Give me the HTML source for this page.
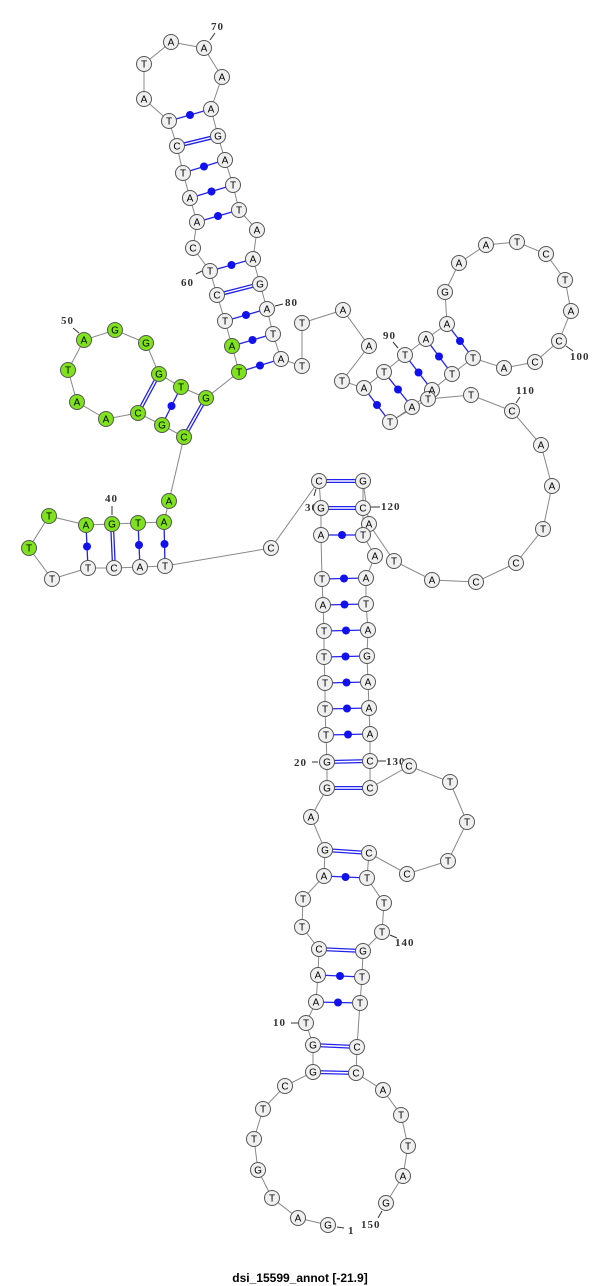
<!DOCTYPE html>
<html><head><meta charset="utf-8"><style>
html,body{margin:0;padding:0;background:#fff;}
svg{display:block;}
.n circle{fill:#f0f0f0;stroke:#555;stroke-width:1;}
.g circle{fill:#7ee21c;stroke:#555;stroke-width:1;}
text.b{font-family:"Liberation Sans",sans-serif;font-size:10px;text-anchor:middle;fill:#000;}
text.l{font-family:"Liberation Serif",serif;font-size:11px;font-weight:bold;fill:#333;letter-spacing:1px;}
.bb{fill:none;stroke:#888;stroke-width:1;}
.s{stroke:#2222ee;stroke-width:1.3;}
.d1{stroke:#2222ee;stroke-width:4;}
.d2{stroke:#fff;stroke-width:1.4;}
.t{stroke:#333;stroke-width:1;}
</style></head><body>
<svg width="600" height="1286" viewBox="0 0 600 1286" xmlns="http://www.w3.org/2000/svg">
<polyline class="bb" points="328,1225 298,1218 272,1198 258,1170 254,1139 263,1109 285,1086 313,1072 313,1045 306,1023 316,1002 318,975 319,949 302,927 303,899 324,876 325,850 311,817 327,788 327,762 326,735 325,709 325,683 324,657 324,631 323,605 322,579 321,535 321,508 319,481 271,548 165,566 140,567 114,568 88,568 52,579 29,548 49,516 86,525 112,524 138,523 164,522 169,501 184,437 162,425 138,413 106,419 77,402 68,370 84,340 115,330 146,343 159,374 181,387 206,398 239,372 232,346 225,321 217,295 210,271 193,248 197,222 190,198 183,173 177,146 169,121 144,99 144,64 171,42 204,48 222,77 211,109 218,136 225,160 233,185 239,210 257,230 253,259 260,284 267,309 273,334 281,359 302,366 302,323 343,310 369,346 342,381 364,388 384,372 405,355 426,339 447,324 445,292 459,263 486,245 517,242 546,254 565,280 571,311 559,341 535,362 504,368 473,358 452,374 432,390 412,407 390,422 428,399 471,395 512,411 541,445 552,486 543,529 516,563 476,582 432,580 394,561 369,524 363,481 363,508 363,535 375,556 366,578 366,604 368,630 367,656 368,682 369,708 370,734 370,761 370,788 409,766 450,782 467,822 448,861 407,874 369,853 367,878 384,903 382,932 363,951 362,977 360,1003 357,1047 356,1073 383,1090 401,1115 408,1146 403,1176 386,1203"/>
<!-- double pairs -->
<g>
<line class="d1" x1="313" y1="1072" x2="356" y2="1073"/><line class="d2" x1="313" y1="1072" x2="356" y2="1073"/>
<line class="d1" x1="313" y1="1045" x2="357" y2="1047"/><line class="d2" x1="313" y1="1045" x2="357" y2="1047"/>
<line class="d1" x1="319" y1="949" x2="363" y2="951"/><line class="d2" x1="319" y1="949" x2="363" y2="951"/>
<line class="d1" x1="325" y1="850" x2="369" y2="853"/><line class="d2" x1="325" y1="850" x2="369" y2="853"/>
<line class="d1" x1="327" y1="788" x2="370" y2="788"/><line class="d2" x1="327" y1="788" x2="370" y2="788"/>
<line class="d1" x1="327" y1="762" x2="370" y2="761"/><line class="d2" x1="327" y1="762" x2="370" y2="761"/>
<line class="d1" x1="321" y1="508" x2="363" y2="508"/><line class="d2" x1="321" y1="508" x2="363" y2="508"/>
<line class="d1" x1="319" y1="481" x2="363" y2="481"/><line class="d2" x1="319" y1="481" x2="363" y2="481"/>
<line class="d1" x1="112" y1="524" x2="114" y2="568"/><line class="d2" x1="112" y1="524" x2="114" y2="568"/>
<line class="d1" x1="184" y1="437" x2="206" y2="398"/><line class="d2" x1="184" y1="437" x2="206" y2="398"/>
<line class="d1" x1="138" y1="413" x2="159" y2="374"/><line class="d2" x1="138" y1="413" x2="159" y2="374"/>
<line class="d1" x1="217" y1="295" x2="260" y2="284"/><line class="d2" x1="217" y1="295" x2="260" y2="284"/>
<line class="d1" x1="177" y1="146" x2="218" y2="136"/><line class="d2" x1="177" y1="146" x2="218" y2="136"/>
</g>
<!-- single pairs with dots -->
<g fill="#1111f0">
<line class="s" x1="316" y1="1002" x2="360" y2="1003"/><circle cx="338" cy="1002.5" r="4"/>
<line class="s" x1="318" y1="975" x2="362" y2="977"/><circle cx="340" cy="976" r="4"/>
<line class="s" x1="324" y1="876" x2="367" y2="878"/><circle cx="345.5" cy="877" r="4"/>
<line class="s" x1="326" y1="735" x2="370" y2="734"/><circle cx="348" cy="734.5" r="4"/>
<line class="s" x1="325" y1="709" x2="369" y2="708"/><circle cx="347" cy="708.5" r="4"/>
<line class="s" x1="325" y1="683" x2="368" y2="682"/><circle cx="346.5" cy="682.5" r="4"/>
<line class="s" x1="324" y1="657" x2="367" y2="656"/><circle cx="345.5" cy="656.5" r="4"/>
<line class="s" x1="324" y1="631" x2="368" y2="630"/><circle cx="346" cy="630.5" r="4"/>
<line class="s" x1="323" y1="605" x2="366" y2="604"/><circle cx="344.5" cy="604.5" r="4"/>
<line class="s" x1="322" y1="579" x2="366" y2="578"/><circle cx="344" cy="578.5" r="4"/>
<line class="s" x1="321" y1="535" x2="363" y2="535"/><circle cx="342" cy="535" r="4"/>
<line class="s" x1="164" y1="522" x2="165" y2="566"/><circle cx="164.5" cy="544" r="4"/>
<line class="s" x1="138" y1="523" x2="140" y2="567"/><circle cx="139" cy="545" r="4"/>
<line class="s" x1="86" y1="525" x2="88" y2="568"/><circle cx="87" cy="546.5" r="4"/>
<line class="s" x1="162" y1="425" x2="181" y2="387"/><circle cx="171.5" cy="406" r="4"/>
<line class="s" x1="239" y1="372" x2="281" y2="359"/><circle cx="260" cy="365.5" r="4"/>
<line class="s" x1="232" y1="346" x2="273" y2="334"/><circle cx="252.5" cy="340" r="4"/>
<line class="s" x1="225" y1="321" x2="267" y2="309"/><circle cx="246" cy="315" r="4"/>
<line class="s" x1="210" y1="271" x2="253" y2="259"/><circle cx="231.5" cy="265" r="4"/>
<line class="s" x1="197" y1="222" x2="239" y2="210"/><circle cx="218" cy="216" r="4"/>
<line class="s" x1="190" y1="198" x2="233" y2="185"/><circle cx="211.5" cy="191.5" r="4"/>
<line class="s" x1="183" y1="173" x2="225" y2="160"/><circle cx="204" cy="166.5" r="4"/>
<line class="s" x1="169" y1="121" x2="211" y2="109"/><circle cx="190" cy="115" r="4"/>
<line class="s" x1="364" y1="388" x2="390" y2="422"/><circle cx="377" cy="405" r="4"/>
<line class="s" x1="384" y1="372" x2="412" y2="407"/><circle cx="398" cy="389.5" r="4"/>
<line class="s" x1="405" y1="355" x2="432" y2="390"/><circle cx="418.5" cy="372.5" r="4"/>
<line class="s" x1="426" y1="339" x2="452" y2="374"/><circle cx="439" cy="356.5" r="4"/>
<line class="s" x1="447" y1="324" x2="473" y2="358"/><circle cx="460" cy="341" r="4"/>
</g>
<!-- ticks -->
<g class="t">
<line x1="210" y1="40" x2="215" y2="33"/>
<line x1="202" y1="271" x2="196" y2="274"/>
<line x1="275" y1="306" x2="283" y2="304"/>
<line x1="79" y1="333" x2="73" y2="328"/>
<line x1="112" y1="515" x2="112" y2="506"/>
<line x1="316" y1="489" x2="314" y2="496"/>
<line x1="371" y1="507" x2="380" y2="507"/>
<line x1="378" y1="761" x2="386" y2="761"/>
<line x1="390" y1="935" x2="397" y2="938"/>
<line x1="318" y1="762" x2="312" y2="762"/>
<line x1="298" y1="1023" x2="291" y2="1023"/>
<line x1="398" y1="348" x2="393" y2="342"/>
<line x1="566" y1="346" x2="573" y2="351"/>
<line x1="516" y1="403" x2="520" y2="397"/>
<line x1="382" y1="1211" x2="378" y2="1218"/>
<line x1="337" y1="1227" x2="344" y2="1228"/>
</g>
<g>
<text class="l" x="211" y="30">70</text>
<text class="l" x="181" y="286">60</text>
<text class="l" x="285" y="306">80</text>
<text class="l" x="61" y="324">50</text>
<text class="l" x="105" y="502">40</text>
<text class="l" x="305" y="511">30</text>
<text class="l" x="381" y="510">120</text>
<text class="l" x="386" y="765">130</text>
<text class="l" x="395" y="946">140</text>
<text class="l" x="294" y="766">20</text>
<text class="l" x="273" y="1026">10</text>
<text class="l" x="383" y="339">90</text>
<text class="l" x="570" y="360">100</text>
<text class="l" x="516" y="394">110</text>
<text class="l" x="361" y="1228">150</text>
<text class="l" x="348" y="1234">1</text>
</g>
<!-- nucleotides -->
<g class="n">
<circle cx="328" cy="1225" r="7.5"/><circle cx="298" cy="1218" r="7.5"/><circle cx="272" cy="1198" r="7.5"/><circle cx="258" cy="1170" r="7.5"/><circle cx="254" cy="1139" r="7.5"/><circle cx="263" cy="1109" r="7.5"/><circle cx="285" cy="1086" r="7.5"/><circle cx="313" cy="1072" r="7.5"/><circle cx="313" cy="1045" r="7.5"/><circle cx="306" cy="1023" r="7.5"/><circle cx="316" cy="1002" r="7.5"/><circle cx="318" cy="975" r="7.5"/><circle cx="319" cy="949" r="7.5"/><circle cx="302" cy="927" r="7.5"/><circle cx="303" cy="899" r="7.5"/><circle cx="324" cy="876" r="7.5"/><circle cx="325" cy="850" r="7.5"/><circle cx="311" cy="817" r="7.5"/><circle cx="327" cy="788" r="7.5"/><circle cx="327" cy="762" r="7.5"/><circle cx="326" cy="735" r="7.5"/><circle cx="325" cy="709" r="7.5"/><circle cx="325" cy="683" r="7.5"/><circle cx="324" cy="657" r="7.5"/><circle cx="324" cy="631" r="7.5"/><circle cx="323" cy="605" r="7.5"/><circle cx="322" cy="579" r="7.5"/><circle cx="321" cy="535" r="7.5"/><circle cx="321" cy="508" r="7.5"/><circle cx="319" cy="481" r="7.5"/><circle cx="271" cy="548" r="7.5"/><circle cx="165" cy="566" r="7.5"/><circle cx="140" cy="567" r="7.5"/><circle cx="114" cy="568" r="7.5"/><circle cx="88" cy="568" r="7.5"/><circle cx="52" cy="579" r="7.5"/>
<circle cx="225" cy="321" r="7.5"/><circle cx="217" cy="295" r="7.5"/><circle cx="210" cy="271" r="7.5"/><circle cx="193" cy="248" r="7.5"/><circle cx="197" cy="222" r="7.5"/><circle cx="190" cy="198" r="7.5"/><circle cx="183" cy="173" r="7.5"/><circle cx="177" cy="146" r="7.5"/><circle cx="169" cy="121" r="7.5"/><circle cx="144" cy="99" r="7.5"/><circle cx="144" cy="64" r="7.5"/><circle cx="171" cy="42" r="7.5"/><circle cx="204" cy="48" r="7.5"/><circle cx="222" cy="77" r="7.5"/><circle cx="211" cy="109" r="7.5"/><circle cx="218" cy="136" r="7.5"/><circle cx="225" cy="160" r="7.5"/><circle cx="233" cy="185" r="7.5"/><circle cx="239" cy="210" r="7.5"/><circle cx="257" cy="230" r="7.5"/><circle cx="253" cy="259" r="7.5"/><circle cx="260" cy="284" r="7.5"/><circle cx="267" cy="309" r="7.5"/><circle cx="273" cy="334" r="7.5"/><circle cx="281" cy="359" r="7.5"/><circle cx="302" cy="366" r="7.5"/><circle cx="302" cy="323" r="7.5"/><circle cx="343" cy="310" r="7.5"/><circle cx="369" cy="346" r="7.5"/><circle cx="342" cy="381" r="7.5"/><circle cx="364" cy="388" r="7.5"/><circle cx="384" cy="372" r="7.5"/><circle cx="405" cy="355" r="7.5"/><circle cx="426" cy="339" r="7.5"/><circle cx="447" cy="324" r="7.5"/><circle cx="445" cy="292" r="7.5"/><circle cx="459" cy="263" r="7.5"/><circle cx="486" cy="245" r="7.5"/><circle cx="517" cy="242" r="7.5"/><circle cx="546" cy="254" r="7.5"/><circle cx="565" cy="280" r="7.5"/><circle cx="571" cy="311" r="7.5"/><circle cx="559" cy="341" r="7.5"/><circle cx="535" cy="362" r="7.5"/><circle cx="504" cy="368" r="7.5"/><circle cx="473" cy="358" r="7.5"/><circle cx="452" cy="374" r="7.5"/><circle cx="432" cy="390" r="7.5"/><circle cx="412" cy="407" r="7.5"/><circle cx="390" cy="422" r="7.5"/><circle cx="428" cy="399" r="7.5"/><circle cx="471" cy="395" r="7.5"/><circle cx="512" cy="411" r="7.5"/><circle cx="541" cy="445" r="7.5"/><circle cx="552" cy="486" r="7.5"/><circle cx="543" cy="529" r="7.5"/><circle cx="516" cy="563" r="7.5"/><circle cx="476" cy="582" r="7.5"/><circle cx="432" cy="580" r="7.5"/><circle cx="394" cy="561" r="7.5"/><circle cx="369" cy="524" r="7.5"/><circle cx="363" cy="481" r="7.5"/><circle cx="363" cy="508" r="7.5"/><circle cx="363" cy="535" r="7.5"/><circle cx="375" cy="556" r="7.5"/><circle cx="366" cy="578" r="7.5"/><circle cx="366" cy="604" r="7.5"/><circle cx="368" cy="630" r="7.5"/><circle cx="367" cy="656" r="7.5"/><circle cx="368" cy="682" r="7.5"/><circle cx="369" cy="708" r="7.5"/><circle cx="370" cy="734" r="7.5"/><circle cx="370" cy="761" r="7.5"/><circle cx="370" cy="788" r="7.5"/><circle cx="409" cy="766" r="7.5"/><circle cx="450" cy="782" r="7.5"/><circle cx="467" cy="822" r="7.5"/><circle cx="448" cy="861" r="7.5"/><circle cx="407" cy="874" r="7.5"/><circle cx="369" cy="853" r="7.5"/><circle cx="367" cy="878" r="7.5"/><circle cx="384" cy="903" r="7.5"/><circle cx="382" cy="932" r="7.5"/><circle cx="363" cy="951" r="7.5"/><circle cx="362" cy="977" r="7.5"/><circle cx="360" cy="1003" r="7.5"/><circle cx="357" cy="1047" r="7.5"/><circle cx="356" cy="1073" r="7.5"/><circle cx="383" cy="1090" r="7.5"/><circle cx="401" cy="1115" r="7.5"/><circle cx="408" cy="1146" r="7.5"/><circle cx="403" cy="1176" r="7.5"/><circle cx="386" cy="1203" r="7.5"/>
</g>
<g class="g">
<circle cx="29" cy="548" r="7.5"/><circle cx="49" cy="516" r="7.5"/><circle cx="86" cy="525" r="7.5"/><circle cx="112" cy="524" r="7.5"/><circle cx="138" cy="523" r="7.5"/><circle cx="164" cy="522" r="7.5"/><circle cx="169" cy="501" r="7.5"/><circle cx="184" cy="437" r="7.5"/><circle cx="162" cy="425" r="7.5"/><circle cx="138" cy="413" r="7.5"/><circle cx="106" cy="419" r="7.5"/><circle cx="77" cy="402" r="7.5"/><circle cx="68" cy="370" r="7.5"/><circle cx="84" cy="340" r="7.5"/><circle cx="115" cy="330" r="7.5"/><circle cx="146" cy="343" r="7.5"/><circle cx="159" cy="374" r="7.5"/><circle cx="181" cy="387" r="7.5"/><circle cx="206" cy="398" r="7.5"/><circle cx="239" cy="372" r="7.5"/><circle cx="232" cy="346" r="7.5"/>
</g>
<g>
<text class="b" x="328" y="1228.5">G</text><text class="b" x="298" y="1221.5">A</text><text class="b" x="272" y="1201.5">T</text><text class="b" x="258" y="1173.5">G</text><text class="b" x="254" y="1142.5">T</text><text class="b" x="263" y="1112.5">T</text><text class="b" x="285" y="1089.5">C</text><text class="b" x="313" y="1075.5">G</text><text class="b" x="313" y="1048.5">G</text><text class="b" x="306" y="1026.5">T</text><text class="b" x="316" y="1005.5">A</text><text class="b" x="318" y="978.5">A</text><text class="b" x="319" y="952.5">C</text><text class="b" x="302" y="930.5">T</text><text class="b" x="303" y="902.5">T</text><text class="b" x="324" y="879.5">A</text><text class="b" x="325" y="853.5">G</text><text class="b" x="311" y="820.5">A</text><text class="b" x="327" y="791.5">G</text><text class="b" x="327" y="765.5">G</text><text class="b" x="326" y="738.5">T</text><text class="b" x="325" y="712.5">T</text><text class="b" x="325" y="686.5">T</text><text class="b" x="324" y="660.5">T</text><text class="b" x="324" y="634.5">T</text><text class="b" x="323" y="608.5">A</text><text class="b" x="322" y="582.5">T</text><text class="b" x="321" y="538.5">A</text><text class="b" x="321" y="511.5">G</text><text class="b" x="319" y="484.5">C</text><text class="b" x="271" y="551.5">C</text><text class="b" x="165" y="569.5">T</text><text class="b" x="140" y="570.5">A</text><text class="b" x="114" y="571.5">C</text><text class="b" x="88" y="571.5">T</text><text class="b" x="52" y="582.5">T</text><text class="b" x="29" y="551.5">T</text><text class="b" x="49" y="519.5">T</text><text class="b" x="86" y="528.5">A</text><text class="b" x="112" y="527.5">G</text><text class="b" x="138" y="526.5">T</text><text class="b" x="164" y="525.5">A</text><text class="b" x="169" y="504.5">A</text><text class="b" x="184" y="440.5">C</text><text class="b" x="162" y="428.5">G</text><text class="b" x="138" y="416.5">C</text><text class="b" x="106" y="422.5">A</text><text class="b" x="77" y="405.5">A</text><text class="b" x="68" y="373.5">T</text><text class="b" x="84" y="343.5">A</text><text class="b" x="115" y="333.5">G</text><text class="b" x="146" y="346.5">G</text><text class="b" x="159" y="377.5">G</text><text class="b" x="181" y="390.5">T</text><text class="b" x="206" y="401.5">G</text><text class="b" x="239" y="375.5">T</text><text class="b" x="232" y="349.5">A</text><text class="b" x="225" y="324.5">T</text><text class="b" x="217" y="298.5">C</text><text class="b" x="210" y="274.5">T</text><text class="b" x="193" y="251.5">C</text><text class="b" x="197" y="225.5">A</text><text class="b" x="190" y="201.5">A</text><text class="b" x="183" y="176.5">T</text><text class="b" x="177" y="149.5">C</text><text class="b" x="169" y="124.5">T</text><text class="b" x="144" y="102.5">A</text><text class="b" x="144" y="67.5">T</text><text class="b" x="171" y="45.5">A</text><text class="b" x="204" y="51.5">A</text><text class="b" x="222" y="80.5">A</text><text class="b" x="211" y="112.5">A</text><text class="b" x="218" y="139.5">G</text><text class="b" x="225" y="163.5">A</text><text class="b" x="233" y="188.5">T</text><text class="b" x="239" y="213.5">T</text><text class="b" x="257" y="233.5">A</text><text class="b" x="253" y="262.5">A</text><text class="b" x="260" y="287.5">G</text><text class="b" x="267" y="312.5">A</text><text class="b" x="273" y="337.5">T</text><text class="b" x="281" y="362.5">A</text><text class="b" x="302" y="369.5">T</text><text class="b" x="302" y="326.5">T</text><text class="b" x="343" y="313.5">A</text><text class="b" x="369" y="349.5">A</text><text class="b" x="342" y="384.5">T</text><text class="b" x="364" y="391.5">A</text><text class="b" x="384" y="375.5">T</text><text class="b" x="405" y="358.5">T</text><text class="b" x="426" y="342.5">A</text><text class="b" x="447" y="327.5">A</text><text class="b" x="445" y="295.5">G</text><text class="b" x="459" y="266.5">A</text><text class="b" x="486" y="248.5">A</text><text class="b" x="517" y="245.5">T</text><text class="b" x="546" y="257.5">C</text><text class="b" x="565" y="283.5">T</text><text class="b" x="571" y="314.5">A</text><text class="b" x="559" y="344.5">C</text><text class="b" x="535" y="365.5">C</text><text class="b" x="504" y="371.5">A</text><text class="b" x="473" y="361.5">T</text><text class="b" x="452" y="377.5">T</text><text class="b" x="432" y="393.5">A</text><text class="b" x="412" y="410.5">A</text><text class="b" x="390" y="425.5">T</text><text class="b" x="428" y="402.5">T</text><text class="b" x="471" y="398.5">T</text><text class="b" x="512" y="414.5">C</text><text class="b" x="541" y="448.5">A</text><text class="b" x="552" y="489.5">A</text><text class="b" x="543" y="532.5">T</text><text class="b" x="516" y="566.5">C</text><text class="b" x="476" y="585.5">C</text><text class="b" x="432" y="583.5">A</text><text class="b" x="394" y="564.5">T</text><text class="b" x="369" y="527.5">A</text><text class="b" x="363" y="484.5">G</text><text class="b" x="363" y="511.5">C</text><text class="b" x="363" y="538.5">T</text><text class="b" x="375" y="559.5">A</text><text class="b" x="366" y="581.5">A</text><text class="b" x="366" y="607.5">T</text><text class="b" x="368" y="633.5">A</text><text class="b" x="367" y="659.5">G</text><text class="b" x="368" y="685.5">A</text><text class="b" x="369" y="711.5">A</text><text class="b" x="370" y="737.5">A</text><text class="b" x="370" y="764.5">C</text><text class="b" x="370" y="791.5">C</text><text class="b" x="409" y="769.5">C</text><text class="b" x="450" y="785.5">T</text><text class="b" x="467" y="825.5">T</text><text class="b" x="448" y="864.5">T</text><text class="b" x="407" y="877.5">C</text><text class="b" x="369" y="856.5">C</text><text class="b" x="367" y="881.5">T</text><text class="b" x="384" y="906.5">T</text><text class="b" x="382" y="935.5">T</text><text class="b" x="363" y="954.5">G</text><text class="b" x="362" y="980.5">T</text><text class="b" x="360" y="1006.5">T</text><text class="b" x="357" y="1050.5">C</text><text class="b" x="356" y="1076.5">C</text><text class="b" x="383" y="1093.5">A</text><text class="b" x="401" y="1118.5">T</text><text class="b" x="408" y="1149.5">T</text><text class="b" x="403" y="1179.5">A</text><text class="b" x="386" y="1206.5">G</text>
</g>
<text x="300" y="1282" text-anchor="middle" style="font-family:'Liberation Sans',sans-serif;font-size:12px;font-weight:bold;fill:#000;">dsi_15599_annot [-21.9]</text>
</svg>
</body></html>
